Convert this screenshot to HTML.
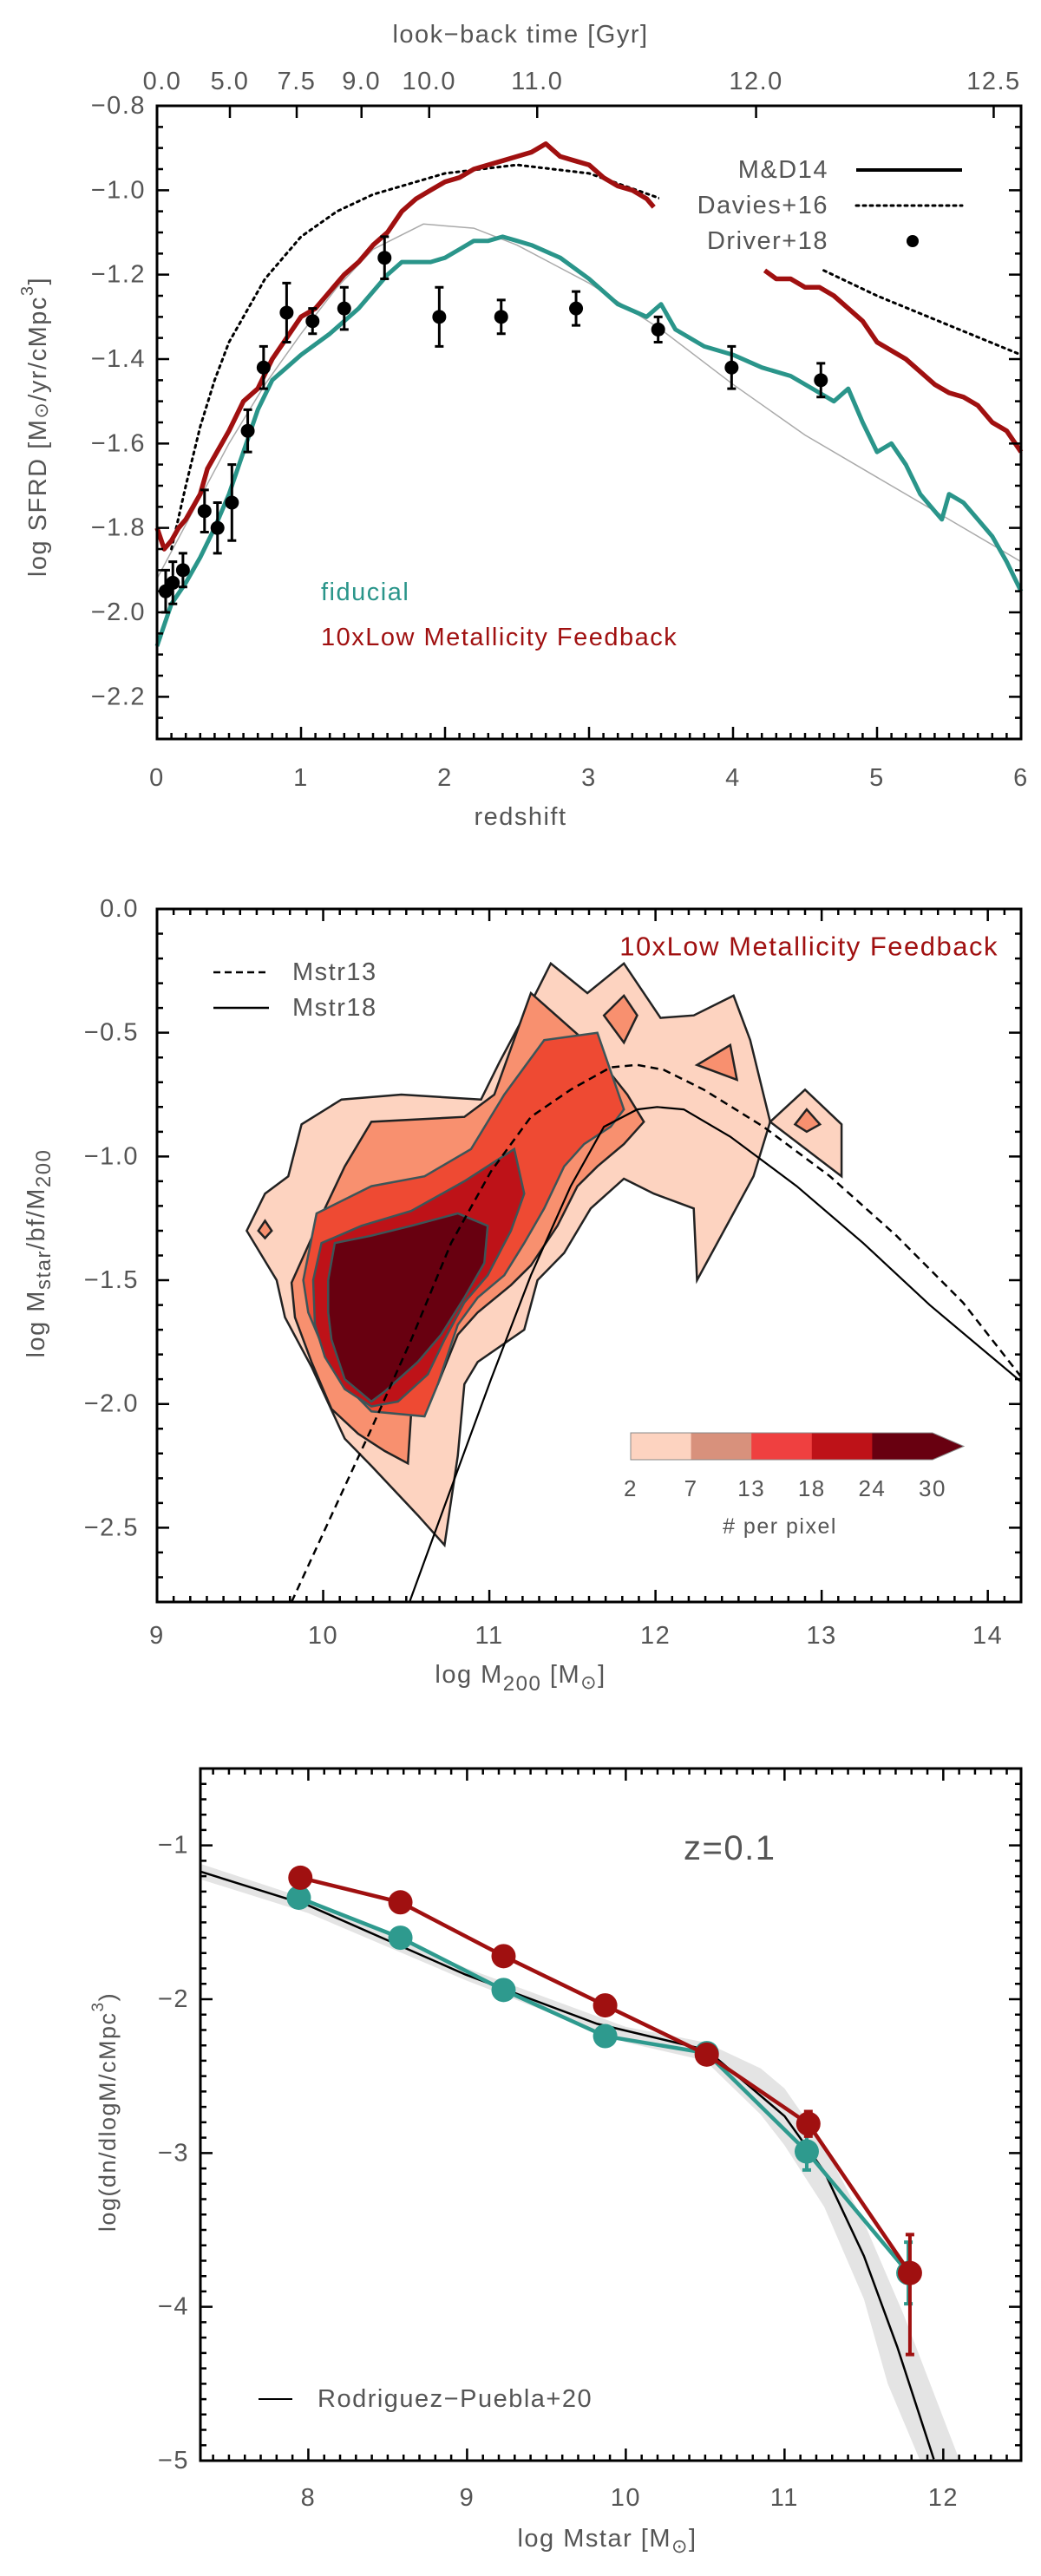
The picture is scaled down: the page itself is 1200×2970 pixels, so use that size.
<!DOCTYPE html>
<html><head><meta charset="utf-8"><title>SFRD, SHMR and GSMF</title>
<style>
html,body{margin:0;padding:0;background:#fff;}
svg{display:block;font-family:"Liberation Sans",sans-serif;}
text{fill:#555;letter-spacing:1.5px;}
</style></head>
<body>
<svg id="fig" width="1200" height="2970" viewBox="0 0 1200 2970" xmlns="http://www.w3.org/2000/svg"></svg>
<script>
// ===== Panel 1 data: SFRD vs redshift =====
const driverZ = [0.06,0.11,0.18,0.33,0.42,0.52,0.63,0.74,0.9,1.08,1.3,1.58,1.96,2.39,2.91,3.48,3.99,4.61];
const driverV = [-1.95,-1.93,-1.90,-1.76,-1.80,-1.74,-1.57,-1.42,-1.29,-1.31,-1.28,-1.16,-1.30,-1.30,-1.28,-1.33,-1.42,-1.45];
const driverErr = [0.05,0.05,0.04,0.05,0.06,0.09,0.05,0.05,0.07,0.03,0.05,0.05,0.07,0.04,0.04,0.03,0.05,0.04];
const mdZ = [0,0.25,0.5,0.75,1,1.25,1.5,1.85,2.2,2.5,3,3.5,4,4.5,5,5.5,6];
const mdV = [-1.92,-1.76,-1.6,-1.46,-1.34,-1.23,-1.14,-1.08,-1.09,-1.13,-1.22,-1.33,-1.46,-1.58,-1.68,-1.78,-1.88];
const davZ = [0.1,0.2,0.3,0.4,0.5,0.75,1,1.25,1.5,2,2.5,3,3.5,3.6,4.6,4.63,5,5.5,6];
const davV = [-1.85,-1.7,-1.56,-1.45,-1.36,-1.21,-1.11,-1.05,-1.01,-0.96,-0.94,-0.96,-1.02,-1.04,-1.18,-1.19,-1.25,-1.32,-1.39];
const redZ1 = [0,0.05,0.1,0.15,0.2,0.3,0.35,0.4,0.5,0.6,0.7,0.8,0.9,1.0,1.1,1.2,1.3,1.4,1.5,1.6,1.7,1.8,1.9,2.0,2.1,2.2,2.3,2.4,2.5,2.6,2.7,2.8,2.9,3.0,3.1,3.2,3.3,3.4,3.45];
const redV1 = [-1.80,-1.85,-1.83,-1.80,-1.78,-1.72,-1.66,-1.63,-1.57,-1.50,-1.47,-1.40,-1.35,-1.30,-1.28,-1.24,-1.20,-1.17,-1.13,-1.10,-1.05,-1.02,-1.00,-0.98,-0.97,-0.95,-0.94,-0.93,-0.92,-0.91,-0.89,-0.92,-0.93,-0.94,-0.97,-0.99,-1.00,-1.02,-1.04];
const redZ2 = [4.22,4.3,4.4,4.5,4.6,4.7,4.8,4.9,5.0,5.1,5.2,5.3,5.4,5.5,5.6,5.7,5.8,5.9,6.0];
const redV2 = [-1.19,-1.21,-1.21,-1.23,-1.23,-1.25,-1.28,-1.31,-1.36,-1.38,-1.40,-1.43,-1.46,-1.48,-1.49,-1.51,-1.55,-1.57,-1.62];
const tealZ = [0,0.1,0.2,0.3,0.4,0.5,0.6,0.7,0.8,0.9,1.0,1.2,1.4,1.6,1.7,1.8,1.9,2.0,2.1,2.2,2.3,2.4,2.5,2.6,2.8,3.0,3.2,3.4,3.5,3.6,3.8,4.0,4.2,4.4,4.6,4.7,4.8,4.9,5.0,5.1,5.2,5.3,5.4,5.45,5.5,5.6,5.7,5.8,5.9,6.0];
const tealV = [-2.08,-1.98,-1.93,-1.87,-1.80,-1.72,-1.62,-1.52,-1.45,-1.42,-1.39,-1.34,-1.28,-1.20,-1.17,-1.17,-1.17,-1.16,-1.14,-1.12,-1.12,-1.11,-1.12,-1.13,-1.16,-1.21,-1.27,-1.30,-1.27,-1.33,-1.37,-1.39,-1.42,-1.44,-1.48,-1.50,-1.47,-1.55,-1.62,-1.60,-1.65,-1.72,-1.76,-1.78,-1.72,-1.74,-1.78,-1.82,-1.88,-1.95];
const lbLabels = ["0.0","5.0","7.5","9.0","10.0","11.0","12.0","12.5"];
const lbZ = [0,0.506,0.97,1.42,1.89,2.64,4.16,5.81];
const p1YTicks = [-0.8,-1.0,-1.2,-1.4,-1.6,-1.8,-2.0,-2.2];
const p1XTicks = [0,1,2,3,4,5,6];

// ===== Panel 2 data: contours & SHMR =====
const lvl2Main = [[9.54,-1.30],[9.65,-1.15],[9.79,-1.08],[9.87,-0.87],[10.11,-0.77],[10.47,-0.75],[10.95,-0.77],[11.06,-0.62],[11.25,-0.38],[11.37,-0.22],[11.59,-0.34],[11.81,-0.22],[12.03,-0.44],[12.23,-0.43],[12.47,-0.35],[12.57,-0.53],[12.69,-0.86],[12.59,-1.08],[12.25,-1.50],[12.23,-1.21],[11.99,-1.15],[11.81,-1.09],[11.61,-1.21],[11.45,-1.39],[11.29,-1.50],[11.21,-1.70],[10.93,-1.83],[10.85,-1.92],[10.81,-2.21],[10.73,-2.57],[10.57,-2.45],[10.29,-2.25],[10.13,-2.14],[9.93,-1.85],[9.77,-1.65],[9.72,-1.50]];
const lvl2Side = [[12.69,-0.86],[12.90,-0.73],[13.12,-0.87],[13.12,-1.08]];
const lvl7Main = [[9.81,-1.51],[9.87,-1.42],[10.01,-1.21],[10.13,-1.04],[10.29,-0.86],[10.85,-0.84],[11.03,-0.75],[11.25,-0.34],[11.57,-0.53],[11.83,-0.75],[11.93,-0.86],[11.81,-0.95],[11.65,-1.04],[11.53,-1.12],[11.41,-1.28],[11.25,-1.44],[11.13,-1.52],[10.93,-1.63],[10.81,-1.72],[10.69,-1.92],[10.53,-2.03],[10.51,-2.24],[10.37,-2.19],[10.21,-2.12],[10.05,-2.02],[9.93,-1.83],[9.83,-1.65]];
const lvl7DiamA = [[9.65,-1.26],[9.69,-1.30],[9.65,-1.33],[9.61,-1.30]];
const lvl7DiamB = [[11.81,-0.35],[11.89,-0.43],[11.81,-0.54],[11.69,-0.43]];
const lvl7DiamC = [[12.45,-0.55],[12.49,-0.69],[12.25,-0.63]];
const lvl7DiamD = [[12.91,-0.81],[12.99,-0.87],[12.91,-0.90],[12.84,-0.87]];
const lvl13 = [[9.88,-1.50],[9.96,-1.23],[10.29,-1.12],[10.61,-1.08],[10.89,-0.97],[11.09,-0.75],[11.33,-0.53],[11.65,-0.50],[11.81,-0.81],[11.73,-0.88],[11.57,-0.95],[11.45,-1.04],[11.33,-1.21],[11.21,-1.35],[11.09,-1.48],[10.93,-1.57],[10.81,-1.68],[10.69,-1.92],[10.61,-2.05],[10.29,-2.03],[10.13,-1.92],[10.01,-1.79],[9.91,-1.63]];
const lvl18 = [[9.94,-1.50],[9.99,-1.35],[10.23,-1.28],[10.53,-1.22],[10.85,-1.10],[11.15,-0.97],[11.21,-1.15],[11.13,-1.30],[10.99,-1.48],[10.85,-1.59],[10.73,-1.74],[10.63,-1.88],[10.45,-1.99],[10.29,-2.01],[10.13,-1.94],[10.01,-1.81],[9.95,-1.68]];
const lvl24 = [[10.03,-1.50],[10.07,-1.35],[10.29,-1.32],[10.53,-1.28],[10.81,-1.23],[10.99,-1.28],[10.97,-1.43],[10.85,-1.57],[10.71,-1.72],[10.57,-1.83],[10.37,-1.95],[10.29,-1.99],[10.13,-1.90],[10.05,-1.74],[10.03,-1.63]];
const m13X = [9.81,10.05,10.29,10.53,10.77,11.01,11.25,11.49,11.73,11.89,12.05,12.29,12.65,13.05,13.45,13.85,14.2];
const m13Y = [-2.80,-2.45,-2.10,-1.74,-1.35,-1.06,-0.84,-0.73,-0.64,-0.63,-0.65,-0.73,-0.88,-1.08,-1.32,-1.59,-1.89];
const m18X = [10.52,10.77,11.01,11.25,11.49,11.69,11.89,12.01,12.17,12.45,12.85,13.25,13.65,14.2];
const m18Y = [-2.80,-2.34,-1.90,-1.48,-1.12,-0.88,-0.81,-0.80,-0.81,-0.92,-1.12,-1.35,-1.60,-1.91];
const cbLabels = ["2","7","13","18","24","30"];
const p2XTicks = [9,10,11,12,13,14];
const p2YTicks = [0,-0.5,-1.0,-1.5,-2.0,-2.5];

// ===== Panel 3 data: stellar mass function =====
const smfX = [7.94,8.58,9.23,9.87,10.51,11.14,11.78];
const tealSMF = [-1.34,-1.60,-1.94,-2.24,-2.35,-2.99,-3.78];
const tealSMFErr = [0.02,0.02,0.02,0.03,0.04,0.12,0.2];
const redSMFX = [7.95,8.58,9.23,9.87,10.51,11.15,11.79];
const redSMF = [-1.21,-1.37,-1.72,-2.04,-2.36,-2.81,-3.78];
const redSMFErrLo = [0.02,0.02,0.02,0.03,0.04,0.08,0.53];
const redSMFErrHi = [0.02,0.02,0.02,0.03,0.04,0.08,0.25];
const rpX = [7.32,8,8.99,9.82,10.51,11.0,11.25,11.5,11.71,11.94];
const rpY = [-1.17,-1.39,-1.84,-2.16,-2.33,-2.76,-3.12,-3.67,-4.26,-4.99];
const bandUpX = [7.32,8,9,10,10.5,10.85,11.0,11.25,11.5,11.75,12.1];
const bandUpY = [-1.12,-1.35,-1.80,-2.18,-2.28,-2.45,-2.58,-2.95,-3.45,-4.05,-4.99];
const bandLoX = [7.32,8,9,10,10.5,10.85,11.0,11.25,11.5,11.65,11.85];
const bandLoY = [-1.22,-1.44,-1.88,-2.28,-2.40,-2.75,-2.95,-3.35,-3.95,-4.5,-4.99];
const p3XTicks = [8,9,10,11,12];
const p3YTicks = [-1,-2,-3,-4,-5];

const NS = "http://www.w3.org/2000/svg";
const svg = document.getElementById('fig');
function mk(tag, attrs, parent){
  const el = document.createElementNS(NS, tag);
  for (const k in attrs) el.setAttribute(k, attrs[k]);
  (parent||svg).appendChild(el);
  return el;
}
function axis(d0,d1,p0,p1){ return v => p0 + (v-d0)/(d1-d0)*(p1-p0); }
function pathFrom(xs, ys, X, Y){ return xs.map((x,i)=>(i?'L':'M')+X(x).toFixed(1)+' '+Y(ys[i]).toFixed(1)).join(' '); }
function polyFrom(pts, X, Y){ return pts.map((p,i)=>(i?'L':'M')+X(p[0]).toFixed(1)+' '+Y(p[1]).toFixed(1)).join(' ')+'Z'; }
function fmt(v,d){ return (v<0?'\u2212':'')+Math.abs(v).toFixed(d); }

function frame(g, L,T,R,B, X,Y, xr, yr, xMinor, yMinor, topTicks){
  const box = mk('rect',{x:L,y:T,width:R-L,height:B-T,fill:'none',stroke:'#000','stroke-width':3},g);
  
  
  let d='';
  for (let v=xr[0]; v<=xr[1]+1e-9; v+=xMinor){
    const x=X(v); const major=Math.abs(v-Math.round(v))<1e-6;
    const len=major?14:7;
    d+=`M${x} ${B}v${-len}`;
    if (topTicks) d+=`M${x} ${T}v${len}`;
  }
  for (let v=yr[0]; v<=yr[1]+1e-9; v+=yMinor){
    const y=Y(v); const r=v/ (yMinor*(yr[2]||4)); const major=Math.abs(r-Math.round(r))<1e-6;
    const len=major?14:7;
    d+=`M${L} ${y}h${len}M${R} ${y}h${-len}`;
  }
  const t = mk('path',{d:d,stroke:'#000','stroke-width':2.5,fill:'none'},g);
  
  
}
function label(g, x,y, txt, size, anchor, name, color){
  const t = mk('text',{x:x,y:y,'font-size':size,'text-anchor':anchor||'middle','dominant-baseline':'central'},g);
  t.textContent = txt;
  if (color) t.setAttribute('style','fill:'+color);
  
  
  return t;
}

// ===================== PANEL 1 =====================
(function(){
  const g = mk('g',{});
  
  
  const L=181,R=1177,T=122,B=852;
  const X=axis(0,6,L,R), Y=axis(-0.8,-2.3,T,B);
  const md=mk('path',{d:pathFrom(mdZ,mdV,X,Y),fill:'none',stroke:'#aaa','stroke-width':1.5},g);
  
  
  const dv=mk('path',{d:pathFrom(davZ.slice(0,14),davV.slice(0,14),X,Y)+' '+pathFrom(davZ.slice(15),davV.slice(15),X,Y),fill:'none',stroke:'#000','stroke-width':3,'stroke-dasharray':'3 5','stroke-linecap':'round'},g);
  
  
  const tl=mk('path',{d:pathFrom(tealZ,tealV,X,Y),fill:'none',stroke:'#2a958a','stroke-width':5,'stroke-linejoin':'round'},g);
  
  
  const rl=mk('path',{d:pathFrom(redZ1,redV1,X,Y)+' '+pathFrom(redZ2,redV2,X,Y),fill:'none',stroke:'#a01010','stroke-width':5.5,'stroke-linejoin':'round'},g);
  
  
  driverZ.forEach((z,i)=>{
    const x=X(z), y=Y(driverV[i]), y1=Y(driverV[i]+driverErr[i]), y2=Y(driverV[i]-driverErr[i]);
    const e=mk('path',{d:`M${x} ${y1}V${y2}M${x-5} ${y1}h10M${x-5} ${y2}h10`,stroke:'#000','stroke-width':3},g);
    
    
    const c=mk('circle',{cx:x,cy:y,r:8,fill:'#000'},g);
    
    
  });
  const lg=mk('g',{},g);
  
  
  const bg=mk('rect',{x:760,y:172,width:412,height:128,fill:'#fff'},lg);
  
  
  label(lg,955,196,'M&D14',29,'end','legend-md14-label');
  const l1=mk('path',{d:'M987 196H1109',stroke:'#000','stroke-width':4},lg);
  
  
  label(lg,955,237,'Davies+16',29,'end','legend-davies16-label');
  const l2=mk('path',{d:'M987 237H1109',stroke:'#000','stroke-width':3,'stroke-dasharray':'3 5','stroke-linecap':'round'},lg);
  
  
  label(lg,955,278,'Driver+18',29,'end','legend-driver18-label');
  const l3=mk('circle',{cx:1052,cy:278,r:7,fill:'#000'},lg);
  
  
  label(g,370,683,'fiducial',29,'start','fiducial-label','#2a958a');
  label(g,370,735,'10xLow Metallicity Feedback',29,'start','feedback-label','#a01010');
  frame(g,L,T,R,B,X,Y,[0,6],[-2.3,-0.8,4],0.1,0.05,false);
  let d='';
  lbZ.forEach(z=>{ d+=`M${X(z)} ${T}v14`; });
  const tt=mk('path',{d:d,stroke:'#000','stroke-width':2.5},g);
  
  
  lbLabels.forEach((s,i)=>label(g,X(lbZ[i])+(i==0?6:0),94,s,29,'middle','lookback-tick-label'));
  label(g,600,40,'look\u2212back time [Gyr]',29,'middle','top-axis-title');
  p1XTicks.forEach(v=>label(g,X(v),897,String(v),29,'middle','x-tick-label'));
  p1YTicks.forEach(v=>label(g,168,Y(v),fmt(v,1),29,'end','y-tick-label'));
  label(g,600,942,'redshift',29,'middle','x-axis-title');
  const yt=mk('text',{x:0,y:0,'font-size':29,'text-anchor':'middle','dominant-baseline':'central',transform:'translate(44 492) rotate(-90)'},g);
  yt.innerHTML='log SFRD [M<tspan font-size="22" dy="3">\u2299</tspan><tspan dy="-3">/yr/cMpc</tspan><tspan font-size="20" dy="-12">3</tspan><tspan dy="12">]</tspan>';
  
  
})();

// ===================== PANEL 2 =====================
(function(){
  const g = mk('g',{});
  
  
  const L=181,R=1177,T=1048,B=1847;
  const X=axis(9,14.2,L,R), Y=axis(0,-2.8,T,B);
  const c2='#fdd3c0', c7='#f8906f', c13='#ee4a33', c18='#be1218', c24='#680010';
  const polys=[[lvl2Main,c2,'#222','contour-level-2'],[lvl2Side,c2,'#222','contour-level-2-island'],
    [lvl7Main,c7,'#222','contour-level-7'],[lvl7DiamA,c7,'#222','contour-level-7-island'],[lvl7DiamB,c7,'#222','contour-level-7-island'],[lvl7DiamC,c7,'#222','contour-level-7-island'],[lvl7DiamD,c7,'#222','contour-level-7-island'],
    [lvl13,c13,'#3c5558','contour-level-13'],[lvl18,c18,'#3c5558','contour-level-18'],[lvl24,c24,'#3c5558','contour-level-24']];
  polys.forEach(p=>{
    const e=mk('path',{d:polyFrom(p[0],X,Y),fill:p[1],stroke:p[2],'stroke-width':2.5,'stroke-linejoin':'miter'},g);
    
    
  });
  const a=mk('path',{d:pathFrom(m13X,m13Y,X,Y),fill:'none',stroke:'#000','stroke-width':2.5,'stroke-dasharray':'9 6'},g);
  
  
  const b=mk('path',{d:pathFrom(m18X,m18Y,X,Y),fill:'none',stroke:'#000','stroke-width':2.2},g);
  
  
  const cols=[c2,'#d8917c','#ef4040',c18,c24];
  const cx0=727, cw=69.6, cy=1652, ch=31;
  cols.forEach((c,i)=>{
    const r=mk('rect',{x:cx0+i*cw,y:cy,width:cw+0.5,height:ch,fill:c},g);
    
    
  });
  const ar=mk('path',{d:`M${cx0+5*cw} ${cy}L${cx0+5*cw+36} ${cy+ch/2}L${cx0+5*cw} ${cy+ch}Z`,fill:c24},g);
  
  
  const cbb=mk('path',{d:`M${cx0} ${cy}H${cx0+5*cw}L${cx0+5*cw+36} ${cy+ch/2}L${cx0+5*cw} ${cy+ch}H${cx0}Z`,fill:'none',stroke:'#888','stroke-width':1},g);
  
  
  cbLabels.forEach((s,i)=>label(g,cx0+i*cw,1716,s,26,'middle','colorbar-tick-label'));
  label(g,899,1760,'# per pixel',25,'middle','colorbar-title');
  const l1=mk('path',{d:'M246 1121H310',stroke:'#000','stroke-width':2.5,'stroke-dasharray':'8 5'},g);
  
  
  label(g,337,1121,'Mstr13',29,'start','legend-mstr13-label');
  const l2=mk('path',{d:'M246 1162H310',stroke:'#000','stroke-width':2.5},g);
  
  
  label(g,337,1162,'Mstr18',29,'start','legend-mstr18-label');
  label(g,1151,1091,'10xLow Metallicity Feedback',31,'end','panel-title','#a01010');
  frame(g,L,T,R,B,X,Y,[9,14.2],[-2.8,0,5],0.1,0.1,true);
  p2XTicks.forEach(v=>label(g,X(v),1886,String(v),29,'middle','x-tick-label'));
  p2YTicks.forEach(v=>label(g,160,Y(v),fmt(v,1),29,'end','y-tick-label'));
  const xt=mk('text',{x:600,y:1931,'font-size':29,'text-anchor':'middle','dominant-baseline':'central'},g);
  xt.innerHTML='log M<tspan font-size="24" dy="10">200</tspan><tspan dy="-10"> [M</tspan><tspan font-size="22" dy="8">\u2299</tspan><tspan dy="-8">]</tspan>';
  
  
  const yt=mk('text',{x:0,y:0,'font-size':29,'text-anchor':'middle','dominant-baseline':'central',transform:'translate(42 1445) rotate(-90)'},g);
  yt.innerHTML='log M<tspan font-size="24" dy="8">star</tspan><tspan dy="-8">/bf/M</tspan><tspan font-size="24" dy="8">200</tspan>';
  
  
})();

// ===================== PANEL 3 =====================
(function(){
  const g = mk('g',{});
  
  
  const L=231,R=1177,T=2039,B=2837;
  const X=axis(7.32,12.49,L,R), Y=axis(-0.5,-5,T,B);
  const clip=mk('clipPath',{id:'c3'},g);
  mk('rect',{x:L,y:T,width:R-L,height:B-T},clip);
  const inner=mk('g',{'clip-path':'url(#c3)'},g);
  const bandD=pathFrom(bandUpX,bandUpY,X,Y)+' '+bandLoX.slice().reverse().map((x,i)=>'L'+X(x).toFixed(1)+' '+Y(bandLoY[bandLoY.length-1-i]).toFixed(1)).join(' ')+'Z';
  const bd=mk('path',{d:bandD,fill:'#e4e4e4'},inner);
  
  
  const rp=mk('path',{d:pathFrom(rpX,rpY,X,Y),fill:'none',stroke:'#000','stroke-width':2.5},inner);
  
  
  function series(xs,ys,lo,hi,col,name){
    const l=mk('path',{d:pathFrom(xs,ys,X,Y),fill:'none',stroke:col,'stroke-width':4.5},g);
    
    
    xs.forEach((x,i)=>{
      const px=X(x);
      const e=mk('path',{d:`M${px} ${Y(ys[i]+hi[i])}V${Y(ys[i]-lo[i])}M${px-5} ${Y(ys[i]+hi[i])}h10M${px-5} ${Y(ys[i]-lo[i])}h10`,stroke:col,'stroke-width':4},g);
      
      
      const c=mk('circle',{cx:px,cy:Y(ys[i]),r:14,fill:col},g);
      
      
    });
  }
  series(smfX,tealSMF,tealSMFErr,tealSMFErr,'#2e9a8e','fiducial-smf');
  series(redSMFX,redSMF,redSMFErrLo,redSMFErrHi,'#a01010','feedback-smf');
  frame(g,L,T,R,B,X,Y,[7.4,12.4],[-5,-0.5,10],0.1,0.1,true);
  label(g,788,2131,'z=0.1',40,'start','redshift-annotation');
  const ll=mk('path',{d:'M298 2766H337',stroke:'#000','stroke-width':2},g);
  
  
  label(g,366,2766,'Rodriguez\u2212Puebla+20',29,'start','legend-rp20-label');
  p3XTicks.forEach(v=>label(g,X(v),2880,String(v),29,'middle','x-tick-label'));
  p3YTicks.forEach(v=>label(g,218,Y(v),fmt(v,0),29,'end','y-tick-label'));
  const xt=mk('text',{x:700,y:2927,'font-size':29,'text-anchor':'middle','dominant-baseline':'central'},g);
  xt.innerHTML='log Mstar [M<tspan font-size="22" dy="8">\u2299</tspan><tspan dy="-8">]</tspan>';
  
  
  const yt=mk('text',{x:0,y:0,'font-size':27,'text-anchor':'middle','dominant-baseline':'central',transform:'translate(124 2435) rotate(-90)'},g);
  yt.innerHTML='log(dn/dlogM/cMpc<tspan font-size="19" dy="-11">3</tspan><tspan dy="11">)</tspan>';
  
  
})();
</script>
</body></html>
